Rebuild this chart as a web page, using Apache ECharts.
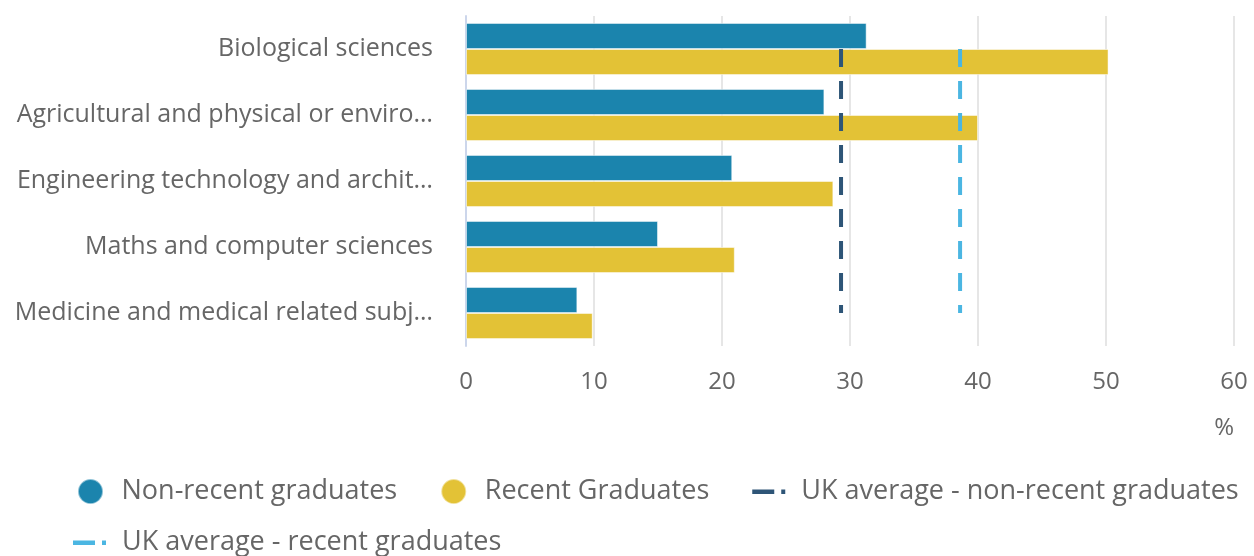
<!DOCTYPE html>
<html>
<head>
<meta charset="utf-8">
<script src="https://cdn.jsdelivr.net/npm/echarts@6/dist/echarts.min.js"></script>
<style>
  html, body { margin: 0; padding: 0; background: #fff; }
  #chart { width: 1254px; height: 556px; }
</style>
</head>
<body>
<div id="chart"></div>
<script>
var categories = [
  'Biological sciences',
  'Agricultural and physical or environmental sciences',
  'Engineering technology and architecture',
  'Maths and computer sciences',
  'Medicine and medical related subjects'
];
var nonRecent = [31.3, 28.0, 20.8, 15.0, 8.7];
var recent = [50.2, 40.0, 28.7, 21.0, 9.9];
var ukNonRecent = 29.3;
var ukRecent = 38.6;
var xTicks = [0, 10, 20, 30, 40, 50, 60];

var font = '"Open Sans", sans-serif';
var myChart = echarts.init(document.getElementById('chart'));

function flat(v) {
  return categories.map(function () { return v; });
}

// dash + dot legend icon, padded to the full 36x25 icon box
var dashIcon = 'path://M0,0 M36,25 M0,10.5 h22 v4.5 h-22 z M29,10.5 h4 v4.5 h-4 z';

var legendBase = {
  padding: 0,
  itemWidth: 36,
  itemHeight: 25,
  itemGap: 43,
  textStyle: { color: '#666', fontSize: 27, fontFamily: font, padding: [0, 0, 0, 8] }
};

myChart.setOption({
  animation: false,
  textStyle: { fontFamily: font },
  grid: { left: 466, right: 20, top: 16, bottom: 210 },
  legend: [
    echarts.util.extend({
      left: 77,
      top: 478,
      data: [
        { name: 'Non-recent graduates', icon: 'circle' },
        { name: 'Recent Graduates', icon: 'circle' },
        { name: 'UK average - non-recent graduates', icon: dashIcon }
      ]
    }, legendBase),
    echarts.util.extend({
      left: 73,
      top: 529,
      data: [
        { name: 'UK average - recent graduates', icon: dashIcon }
      ]
    }, legendBase)
  ],
  xAxis: {
    type: 'value',
    min: xTicks[0],
    max: xTicks[xTicks.length - 1],
    interval: 10,
    name: '%',
    nameLocation: 'end',
    nameGap: 0,
    nameTextStyle: { color: '#666', fontSize: 24, align: 'right', verticalAlign: 'top', padding: [70, 0, 0, 0] },
    axisLine: { show: false },
    axisTick: { show: false },
    axisLabel: { color: '#666', fontSize: 24, margin: 24 },
    splitLine: { lineStyle: { color: '#e6e6e6', width: 2 } }
  },
  yAxis: {
    type: 'category',
    inverse: true,
    data: categories,
    axisLine: { lineStyle: { color: '#ccd6eb', width: 2 } },
    axisTick: { length: 20, lineStyle: { color: '#ccd6eb', width: 2 } },
    axisLabel: {
      color: '#666',
      fontSize: 25,
      margin: 33,
      width: 422,
      padding: [6, 0, 0, 0],
      overflow: 'truncate',
      ellipsis: '…'
    }
  },
  series: [
    {
      name: 'Non-recent graduates',
      type: 'bar',
      data: nonRecent,
      barGap: '0%',
      barCategoryGap: '21%',
      itemStyle: { color: '#1b84ad', borderColor: 'rgba(255,255,255,0.5)', borderWidth: 1 }
    },
    {
      name: 'Recent Graduates',
      type: 'bar',
      data: recent,
      itemStyle: { color: '#e3c236', borderColor: 'rgba(255,255,255,0.5)', borderWidth: 1 }
    },
    {
      name: 'UK average - non-recent graduates',
      type: 'line',
      data: flat(ukNonRecent),
      symbol: 'none',
      z: 5,
      itemStyle: { color: '#2e5577' },
      lineStyle: { color: '#2e5577', width: 4, type: [18, 14] }
    },
    {
      name: 'UK average - recent graduates',
      type: 'line',
      data: flat(ukRecent),
      symbol: 'none',
      z: 5,
      itemStyle: { color: '#4bb6e2' },
      lineStyle: { color: '#4bb6e2', width: 4, type: [18, 14] }
    }
  ]
});
</script>
</body>
</html>
